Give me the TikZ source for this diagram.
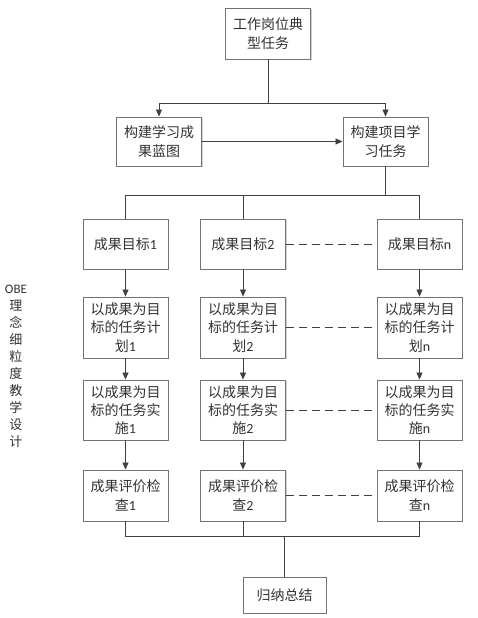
\documentclass[tikz,border=0pt]{standalone}
\usepackage{fontspec}
\setmainfont{Noto Sans CJK SC}
\newfontfamily\latin{Carlito}
\usetikzlibrary{arrows.meta,shadows}

\begin{document}
\begin{tikzpicture}[x=1pt,y=-1pt,
  box/.style={draw=black!55,line width=.9pt,fill=white,text=black!80,
    minimum width=85pt,align=center,inner sep=0pt,
    font=\fontsize{14}{18.3}\selectfont,
    drop shadow={shadow xshift=1.2pt,shadow yshift=-1.2pt,fill=black!30,opacity=.6}},
  link/.style={draw=black!75,line width=.8pt},
  arr/.style={link,-{Triangle[length=7pt,width=6pt]}},
  dashlink/.style={draw=black!75,line width=.8pt,dash pattern=on 8pt off 5pt}]
  \useasboundingbox (0,0) rectangle (477,618);
  % top part
  \node[box,minimum height=51pt] (post) at (268,33.5) {工作岗位典\\型任务};
  \node[box,minimum height=49pt] (blueprint) at (159,141.5) {构建学习成\\果蓝图};
  \node[box,minimum height=49pt] (project) at (385.5,141.5) {构建项目学\\习任务};
  \coordinate (split) at (268,103);
  \draw[arr] (post.south) -- (split) -| (blueprint.north);
  \draw[arr] (split) -| (project.north);
  \draw[arr] (blueprint.east) -- (project.west);
  % columns
  \foreach \c/\x/\k in {1/125.5/1,2/243/2,3/419.5/n} {
    \node[box,minimum height=50pt] (goal\c) at (\x,244) {成果目标{\latin\k}};
    \node[box,minimum height=61pt] (plan\c) at (\x,327.5) {以成果为目\\标的任务计\\划{\latin\k}};
    \node[box,minimum height=60pt] (impl\c) at (\x,410) {以成果为目\\标的任务实\\施{\latin\k}};
    \node[box,minimum height=51pt] (check\c) at (\x,495.5) {成果评价检\\查{\latin\k}};
    \draw[arr] (goal\c) -- (plan\c);
    \draw[arr] (plan\c) -- (impl\c);
    \draw[arr] (impl\c) -- (check\c);
  }
  \foreach \r in {goal,plan,impl,check}
    \draw[dashlink] (\r2) -- (\r3);
  % buses
  \coordinate (bustop) at (385.5,195);
  \draw[link] (project.south) -- (bustop) -| (goal1.north);
  \draw[link] (bustop) -| (goal3.north);
  \draw[link] (goal2.north) -- (goal2.north |- bustop);
  \node[box,minimum width=83pt,minimum height=36pt] (summary) at (284.5,595) {归纳总结};
  \coordinate (busbot) at (284.5,536);
  \draw[link] (check1.south) |- (check3.south |- busbot) -- (check3.south);
  \draw[link] (check2.south) -- (check2.south |- busbot);
  \draw[link] (busbot) -- (summary.north);
  % side label
  \node[text=black!80,align=center,font=\fontsize{13}{17}\selectfont] (obe) at (16,366.5)
    {{\latin OBE}\\理\\念\\细\\粒\\度\\教\\学\\设\\计};
\end{tikzpicture}
\end{document}
